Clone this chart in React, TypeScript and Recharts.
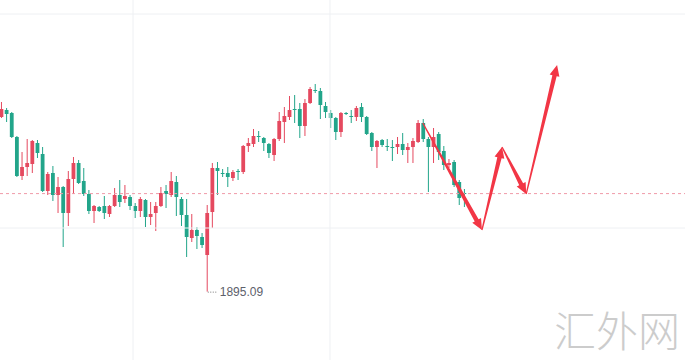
import React from 'react'
import { ComposedChart, Bar, XAxis, YAxis, ReferenceLine, ReferenceDot } from 'recharts'

// candle values (one per bar, oldest first)
const opens = [
  1938.75, 1940.5, 1939.75, 1933.75, 1924, 1926.25, 1927, 1932.25, 1929.5, 1920.25,
  1924.75, 1919.25, 1921.25, 1914.75, 1923.25, 1927.25, 1922.75, 1919.5, 1915.25, 1916.25,
  1916.5, 1914.5, 1916.5, 1919.25, 1918.25, 1918.75, 1916.5, 1915.25, 1918, 1913.75,
  1914.75, 1916.5, 1920.25, 1919.25, 1922.5, 1918.25, 1914.25, 1908.5, 1910.5, 1908.75,
  1904.25, 1915, 1926, 1924.75, 1924.75, 1923.5, 1925.25, 1925, 1931.5, 1932,
  1934, 1933.5, 1932, 1929.25, 1933.25, 1937.5, 1938.75, 1940.75, 1940.75, 1936.5,
  1942.25, 1945.5, 1945.25, 1941.5, 1939.75, 1938.5, 1935, 1939.75, 1939, 1938.75,
  1941.25, 1938.75, 1934.75, 1931.25, 1933, 1931.5, 1931.25, 1931.25, 1932, 1930.5,
  1931.25, 1932.5, 1937.25, 1933.25, 1931.25, 1934.5, 1930.25, 1926.75, 1927.5, 1922.5,
  1919.75,
]
const highs = [
  1942.5, 1941, 1940, 1934, 1930, 1933.25, 1933, 1933, 1931.25, 1925,
  1926.5, 1923.75, 1921.5, 1925.25, 1928.75, 1928, 1926, 1920.5, 1916.75, 1916.5,
  1919, 1916.75, 1921, 1923, 1921.75, 1919.25, 1917.25, 1918.75, 1918.25, 1917.5,
  1917.5, 1921.25, 1921.75, 1925, 1924, 1918.75, 1918.25, 1914.5, 1911.25, 1909.75,
  1916.75, 1927.25, 1927.5, 1925.75, 1926.25, 1925.5, 1925.75, 1931.75, 1933.5, 1935.75,
  1935.25, 1933.75, 1932.25, 1933.5, 1940, 1941.25, 1944, 1944.25, 1942.25, 1943.25,
  1946.25, 1947, 1946, 1942.5, 1940.5, 1938.75, 1940, 1940, 1940.5, 1941.5,
  1942.25, 1939, 1935, 1933, 1933.25, 1933.25, 1933, 1933.75, 1934.75, 1932.25,
  1933.5, 1938, 1938.25, 1933.75, 1936, 1935, 1931.5, 1928.25, 1928, 1923,
  1920.75,
]
const lows = [
  1938.5, 1937.5, 1933.5, 1923.75, 1923, 1924, 1924.75, 1928.5, 1920, 1919.25,
  1917.75, 1914.75, 1906.25, 1911.5, 1919.5, 1922, 1919, 1914.5, 1912.25, 1915,
  1913.25, 1913.75, 1916.25, 1916.25, 1917.25, 1915.5, 1913.5, 1913.75, 1911.25, 1911.75,
  1910.25, 1916.25, 1916, 1918.75, 1914, 1911.5, 1903.75, 1907.5, 1905.75, 1906,
  1895.09, 1911, 1919.25, 1923.75, 1921.25, 1922.75, 1923, 1924.5, 1930, 1931.25,
  1932.5, 1930.25, 1928.5, 1927.75, 1932.75, 1932.25, 1938, 1937.25, 1933.5, 1934,
  1942, 1944.75, 1938.25, 1938.5, 1936, 1933, 1933.75, 1939.25, 1937.25, 1937.75,
  1937.5, 1934.25, 1930.25, 1926, 1931.25, 1930.25, 1927.75, 1929.5, 1929.25, 1927.25,
  1927.25, 1932.25, 1932.5, 1920, 1927.25, 1928, 1925.5, 1926, 1921.25, 1916.75,
  1916.25,
]
const closes = [
  1940.75, 1939.5, 1933.75, 1924, 1926.25, 1927.25, 1932.75, 1929.75, 1920.25, 1924.5,
  1919.25, 1921.25, 1914.75, 1923.25, 1927.25, 1922.25, 1919.5, 1915.25, 1916.5, 1915.25,
  1914.75, 1916.5, 1919.25, 1917.5, 1919, 1916.5, 1915.25, 1918.25, 1913.75, 1914.5,
  1916.5, 1919.75, 1919.5, 1922.75, 1918.75, 1914.25, 1908.75, 1910.5, 1909, 1906.75,
  1914.75, 1926, 1925.25, 1924.5, 1923.75, 1925, 1925, 1931.5, 1932.25, 1934,
  1933.75, 1932.25, 1929.75, 1933.25, 1937.75, 1939, 1940.5, 1940.5, 1936.5, 1942.25,
  1945.75, 1945.25, 1941.75, 1940, 1938.5, 1935, 1939.75, 1939.5, 1938.75, 1941,
  1938.75, 1934.5, 1931.25, 1932.75, 1931.75, 1931.25, 1931, 1932, 1930.5, 1931.25,
  1932.75, 1937.25, 1933.25, 1931.25, 1933.75, 1930, 1926.75, 1927.25, 1921.75, 1918.5,
  1919.6,
]

// hand-drawn arrow path (bar index, price)
const arrowX = [82, 93.5, 97.4, 102.1, 108.1]
const arrowY = [1937.25, 1910.5, 1931.25, 1919.5, 1951.75]

const gridPrices = [1964.5, 1911]
const gridIndices = [25.66, 63.95]
const lastPrice = 1919.6
const lowIndex = 40
const lowPrice = 1895.09

const UP = '#e5495f'
const DOWN = '#22a58a'
const ARROW = '#f23645'

const data = opens.map((o, i) => ({ i, open: o, high: highs[i], low: lows[i], close: closes[i] }))

const Candle = (props: any) => {
  const { x, y, width, height, payload } = props
  const { open, close, high, low } = payload
  const color = close >= open ? UP : DOWN
  const top = Math.min(y, y + height)
  const h = Math.abs(height)
  const toY = (v: number) => top + ((high - v) / (high - low)) * h
  const cx = x + width / 2
  const bTop = toY(Math.max(open, close))
  const bH = Math.max(1, toY(Math.min(open, close)) - bTop)
  return (
    <g>
      <line x1={cx} x2={cx} y1={top} y2={top + h} stroke={color} strokeWidth={1} />
      <rect x={cx - 1.9} y={bTop} width={3.8} height={bH} fill={color} />
    </g>
  )
}

const Arrow = (p: any) => {
  const { x1, y1, x2, y2 } = p
  const dx = x2 - x1
  const dy = y2 - y1
  const len = Math.hypot(dx, dy)
  const ux = dx / len
  const uy = dy / len
  const nx = -uy
  const ny = ux
  const hl = 11
  const hw = 5
  const w0 = 0.6
  const w1 = 2.2
  const bx = x2 - ux * hl
  const by = y2 - uy * hl
  const pts = [
    [x1 + nx * w0, y1 + ny * w0],
    [bx + nx * w1, by + ny * w1],
    [bx + nx * hw, by + ny * hw],
    [x2, y2],
    [bx - nx * hw, by - ny * hw],
    [bx - nx * w1, by - ny * w1],
    [x1 - nx * w0, y1 - ny * w0],
  ]
  return <polygon points={pts.map((q) => q.join(',')).join(' ')} fill={ARROW} />
}

const LowLabel = (p: any) => {
  const { cx, cy } = p
  return (
    <g>
      <line x1={cx + 1} x2={cx + 11} y1={cy + 0.5} y2={cy + 0.5} stroke="#777" strokeDasharray="1 1.5" />
      <text x={cx + 13} y={cy + 4.5} fontSize={12} fill="#5d606b" fontFamily="Liberation Sans, Arial, sans-serif">
        {lowPrice.toFixed(2)}
      </text>
    </g>
  )
}

const LastLine = (p: any) => {
  const { x1, y1, x2, y2 } = p
  return <line x1={x1} y1={y1} x2={x2} y2={y2} stroke="#f09aa8" strokeDasharray="3 3" strokeWidth={1} />
}

export default function App() {
  return (
    <div style={{ position: 'relative', width: 685, height: 360, background: '#fff' }}>
      <style>{'body{margin:0}'}</style>
      <ComposedChart width={685} height={360} data={data} margin={{ top: 0, right: 0, bottom: 0, left: 0 }}>
        <XAxis type="number" dataKey="i" domain={[-0.2, 132.97]} hide allowDataOverflow />
        <YAxis domain={[1878, 1968]} hide allowDataOverflow />
        {gridPrices.map((v) => (
          <ReferenceLine key={'h' + v} y={v} stroke="#eef0f3" strokeWidth={1} />
        ))}
        {gridIndices.map((v) => (
          <ReferenceLine key={'v' + v} x={v} stroke="#eef0f3" strokeWidth={1} />
        ))}
        <ReferenceLine y={lastPrice} shape={(p: any) => <LastLine {...p} />} />
        <Bar
          dataKey={(d: any) => [d.low, d.high]}
          barSize={4}
          shape={(p: any) => <Candle {...p} />}
          isAnimationActive={false}
        />
        <ReferenceDot x={lowIndex} y={lowPrice} ifOverflow="visible" shape={(p: any) => <LowLabel {...p} />} />
        {arrowX.slice(1).map((x2, k) => (
          <ReferenceLine
            key={'a' + k}
            segment={[
              { x: arrowX[k], y: arrowY[k] },
              { x: x2, y: arrowY[k + 1] },
            ]}
            ifOverflow="visible"
            shape={(p: any) => <Arrow {...p} />}
          />
        ))}
      </ComposedChart>
      <div
        style={{
          position: 'absolute',
          left: 554,
          top: 302,
          fontSize: 42,
          color: '#cccccc',
          fontFamily: '"Noto Sans CJK SC", sans-serif',
          fontWeight: 300,
          lineHeight: '54px',
          whiteSpace: 'nowrap',
        }}
      >
        汇外网
      </div>
    </div>
  )
}
